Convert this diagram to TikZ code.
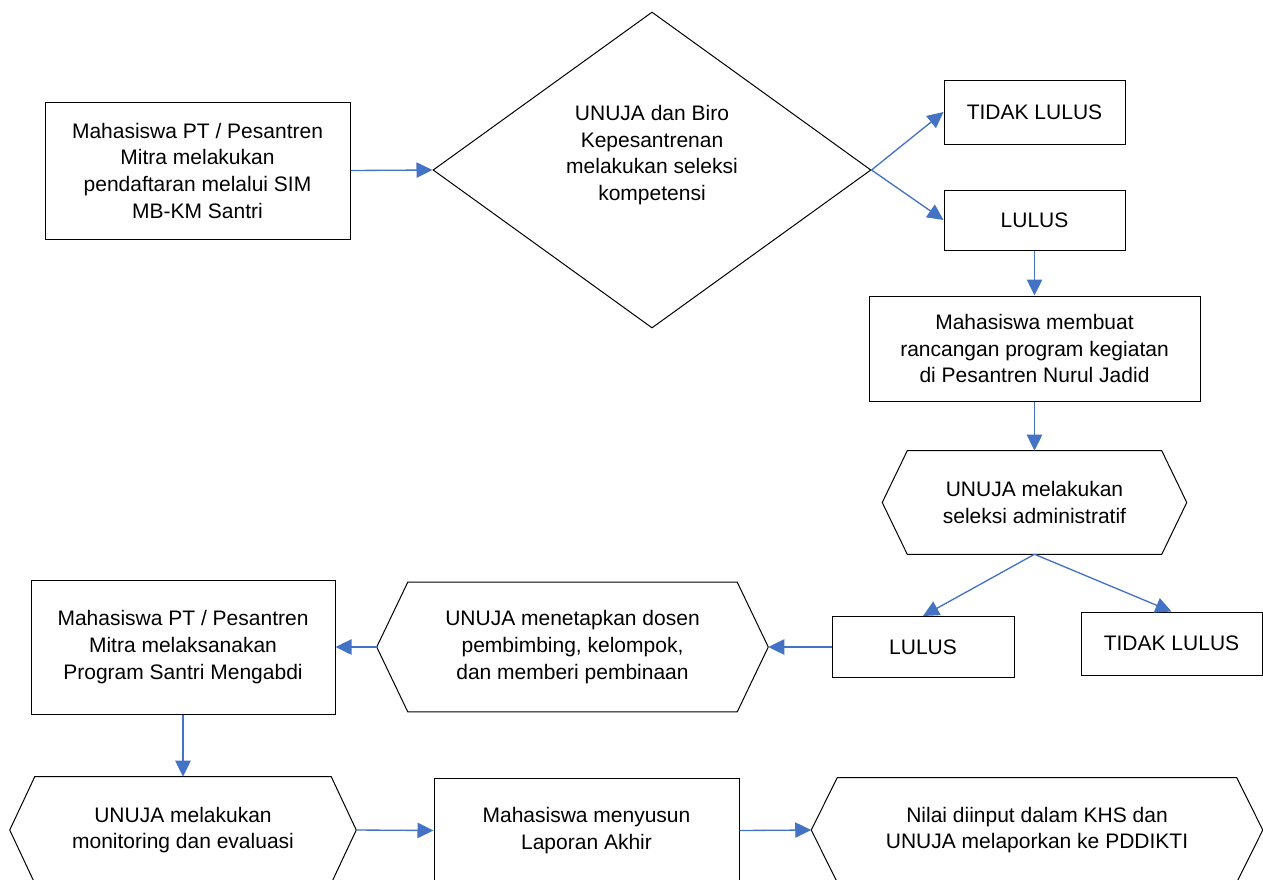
\documentclass[tikz,border=0pt]{standalone}
\usepackage{fontspec}
\setmainfont{Liberation Sans}
\usepackage{tikz}
\usetikzlibrary{arrows.meta,shapes.geometric}
\definecolor{flowblue}{HTML}{4472C4}
\tikzset{
	box/.style={
		rectangle,
		draw,
		line width=0.75pt,
		inner sep=0pt,
		align=center,
		font=\fontsize{15.75}{20}\selectfont
	},
	hexa/.style={
		rectangle,
		inner sep=0pt,
		align=center,
		font=\fontsize{15.75}{20}\selectfont
	},
	decision/.style={
		diamond,
		draw,
		line width=0.75pt,
		inner sep=0pt,
		minimum width=328.5pt,
		minimum height=237pt
	},
	flow/.style={
		draw=flowblue,
		line width=1pt,
		-{Triangle[length=12pt,width=11.5pt]}
	}
}
\newcommand{\hexline}[2]{%
	\draw[line width=0.75pt] ([xshift=#2]#1.north west) -- ([xshift=-#2]#1.north east) -- (#1.east)
		-- ([xshift=-#2]#1.south east) -- ([xshift=#2]#1.south west) -- (#1.west) -- cycle;}

\begin{document}
\begin{tikzpicture}[x=0.75pt, y=-0.75pt]
	\useasboundingbox (0,0) rectangle (1263,879);
	\node [box, minimum width=228.75pt, minimum height=102.75pt] (daftar) at (197.5,170.5) {Mahasiswa PT / Pesantren\\Mitra melakukan\\pendaftaran melalui SIM\\MB-KM Santri};
	\node [decision] (seleksi) at (652,170) {};
	\node [hexa] (seleksitxt) at (652,155) {UNUJA dan Biro\\Kepesantrenan\\melakukan seleksi\\kompetensi};
	\node [box, minimum width=135.75pt, minimum height=48pt] (tidak1) at (1034.5,112) {TIDAK LULUS};
	\node [box, minimum width=135.75pt, minimum height=45pt] (lulus1) at (1034.5,220) {LULUS};
	\node [box, minimum width=248.25pt, minimum height=78.75pt] (rancang) at (1034.5,348.5) {Mahasiswa membuat\\rancangan program kegiatan\\di Pesantren Nurul Jadid};
	\node [hexa, minimum width=228pt, minimum height=77.25pt] (admin) at (1034.5,502.5) {UNUJA melakukan\\seleksi administratif};
	\hexline{admin}{18.75pt}
	\node [box, minimum width=136.5pt, minimum height=45.75pt] (lulus2) at (923,647) {LULUS};
	\node [box, minimum width=135.75pt, minimum height=47.25pt] (tidak2) at (1171.5,643.5) {TIDAK LULUS};
	\node [hexa, minimum width=293.25pt, minimum height=96.75pt] (bimbing) at (572.5,647) {UNUJA menetapkan dosen\\pembimbing, kelompok,\\dan memberi pembinaan};
	\hexline{bimbing}{23.25pt}
	\node [box, minimum width=228pt, minimum height=100.5pt] (laksana) at (183,647) {Mahasiswa PT / Pesantren\\Mitra melaksanakan\\Program Santri Mengabdi};
	\node [hexa, minimum width=259.5pt, minimum height=79.5pt] (monev) at (183,830) {UNUJA melakukan\\monitoring dan evaluasi};
	\hexline{monev}{18.75pt}
	\node [box, minimum width=228.75pt, minimum height=78.75pt] (laporan) at (586.5,830.5) {Mahasiswa menyusun\\Laporan Akhir};
	\node [hexa, minimum width=338.25pt, minimum height=78pt] (nilai) at (1037,830) {Nilai diinput dalam KHS dan\\UNUJA melaporkan ke PDDIKTI};
	\hexline{nilai}{19.5pt}

	\draw [flow] (daftar.east) -- (seleksi.west);
	\draw [flow] (seleksi.east) -- (tidak1.west);
	\draw [flow] (seleksi.east) -- (lulus1.west);
	\draw [flow] (lulus1.south) -- (rancang.north);
	\draw [flow] (rancang.south) -- (admin.north);
	\draw [flow] (admin.south) -- (lulus2.north);
	\draw [flow] (admin.south) -- (tidak2.north);
	\draw [flow] (lulus2.west) -- (bimbing.east);
	\draw [flow] (bimbing.west) -- (laksana.east);
	\draw [flow] (laksana.south) -- (monev.north);
	\draw [flow] (monev.east) -- (laporan.west);
	\draw [flow] (laporan.east) -- (nilai.west);
\end{tikzpicture}
\end{document}
